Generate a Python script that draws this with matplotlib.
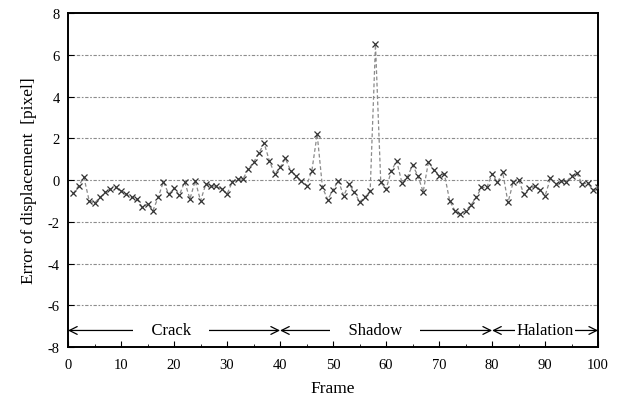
import matplotlib
matplotlib.use("Agg")
import matplotlib.pyplot as plt
import numpy as np

plt.rcParams['font.family'] = ['Liberation Serif', 'DejaVu Serif']
plt.rcParams['axes.unicode_minus'] = False

frames = list(range(1, 101))
error = [
    -0.64, -0.27, 0.13, -0.99, -1.10, -0.83, -0.59, -0.43, -0.35, -0.51,
    -0.67, -0.83, -0.90, -1.30, -1.15, -1.47, -0.83, -0.08, -0.67, -0.40,
    -0.72, -0.08, -0.90, -0.03, -0.99, -0.19, -0.27, -0.30, -0.43, -0.67,
    -0.08, 0.05, 0.05, 0.53, 0.85, 1.29, 1.77, 0.91, 0.29, 0.61,
    1.04, 0.45, 0.21, -0.03, -0.27, 0.45, 2.20, -0.35, -0.94, -0.46,
    -0.03, -0.75, -0.19, -0.56, -1.04, -0.83, -0.51, 6.50, -0.11, -0.43,
    0.45, 0.92, -0.14, 0.13, 0.72, 0.21, -0.56, 0.88, 0.49, 0.21,
    0.29, -0.99, -1.47, -1.63, -1.47, -1.20, -0.83, -0.35, -0.35, 0.29,
    -0.11, 0.37, -1.07, -0.08, 0.02, -0.67, -0.40, -0.30, -0.46, -0.75,
    0.08, -0.19, -0.03, -0.08, 0.21, 0.33, -0.19, -0.14, -0.46, -0.35,
]
segment_names = ["Crack", "Shadow", "Halation"]
segment_bounds = [(0, 40), (40, 80), (80, 100)]
segment_label_x = [19.5, 58, 90]

fig = plt.figure(figsize=(6.2, 4.14), dpi=100)
ax = fig.add_axes([0.1097, 0.159, 0.855, 0.807])

ax.plot(frames, error, color='#8a8a8a', lw=0.9, ls=(0, (3, 2)), zorder=2)
ax.plot(frames, error, ls='none', marker='x', ms=5, mew=0.9, color='#333333', zorder=3)

ax.set_xlim(0, 100)
ax.set_ylim(-8, 8)
ax.set_xticks(np.arange(0, 101, 10))
ax.set_xticks(np.arange(0, 101, 5), minor=True)
ax.set_yticks(np.arange(-8, 9, 2))
ax.tick_params(axis='both', which='both', direction='in', labelsize=10.5, colors='black')
ax.tick_params(axis='x', which='major', length=4, pad=8)
ax.tick_params(axis='x', which='minor', length=2.5)
ax.tick_params(axis='y', which='major', length=4, pad=6)
ax.tick_params(top=False, right=False)

for yv in np.arange(-6, 7, 2):
    ax.axhline(yv, color='#8c8c8c', lw=0.8, ls=(0, (3, 1.5, 1.5, 1.5)), zorder=1)

for s in ax.spines.values():
    s.set_linewidth(1.4)
    s.set_color('black')

yarr = -7.2
spacers = ["    ", "    ", ""]
for name, (x0, x1), xc, sp in zip(segment_names, segment_bounds, segment_label_x, spacers):
    ax.annotate('', xy=(x0, yarr), xytext=(x1, yarr),
                arrowprops=dict(arrowstyle='<->', color='black', lw=0.9,
                                shrinkA=0, shrinkB=0, mutation_scale=14))
    ax.text(xc, yarr, f"{sp}{name}{sp}", ha='center', va='center', fontsize=12,
            bbox=dict(boxstyle='square,pad=0.1', facecolor='white', edgecolor='none'),
            zorder=5)

ax.set_xlabel('Frame', fontsize=12.5, labelpad=6)
ax.set_ylabel('Error of displacement  [pixel]', fontsize=12.5, labelpad=8)

fig.savefig('out.png', dpi=100)
